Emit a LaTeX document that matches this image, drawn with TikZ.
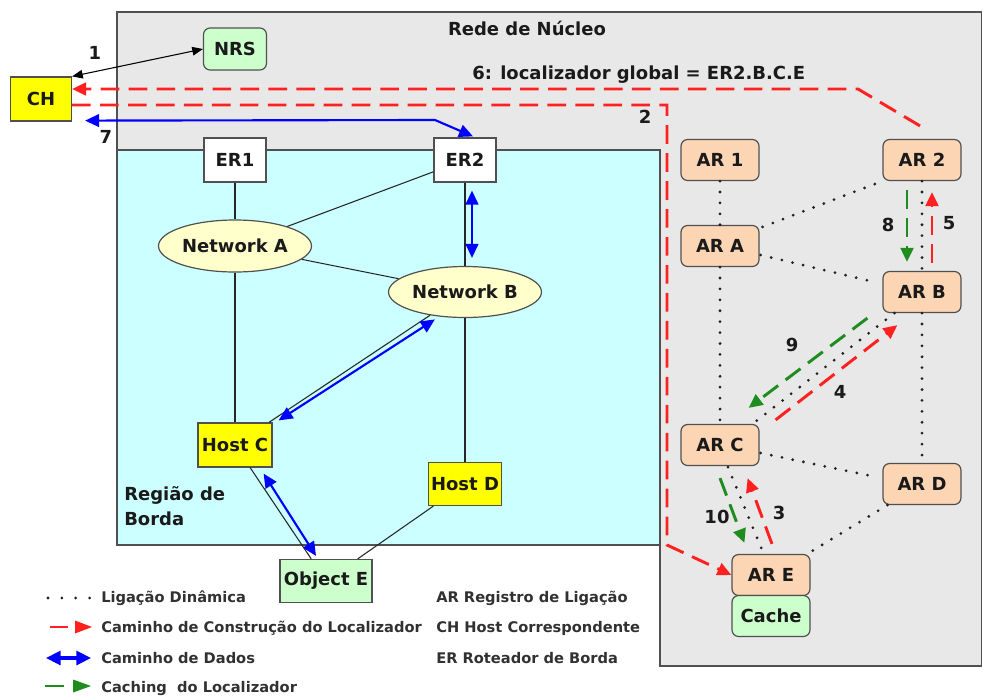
\documentclass[tikz,border=0pt]{standalone}
\usepackage{fontspec}
\setmainfont{DejaVu Sans}
\usetikzlibrary{arrows.meta,shapes.geometric}

\def\px{0.0264cm}
\newcommand\dgfont{\fontsize{13.5}{18.8}\selectfont\bfseries}
\newcommand\legfont{\fontsize{11}{13}\selectfont\bfseries}

\definecolor{coregray}{HTML}{E8E8E8}
\definecolor{edgecol}{HTML}{505050}
\definecolor{borderreg}{HTML}{CCFFFF}
\definecolor{palegreen}{HTML}{CCFFCC}
\definecolor{peach}{HTML}{FCD5B4}
\definecolor{paleyellow}{HTML}{FFFFCC}
\definecolor{yellowc}{HTML}{FFFF00}
\definecolor{redc}{HTML}{FF2020}
\definecolor{bluec}{HTML}{0000FF}
\definecolor{greenc}{HTML}{1E8C1E}
\definecolor{txt}{HTML}{1A1A1A}
\definecolor{dotc}{HTML}{202020}

\tikzset{
  box/.style={draw=edgecol, line width=0.9pt, inner sep=0pt, text=txt},
  rbox/.style={box, rounded corners=5pt},
  arbox/.style={rbox, fill=peach, minimum width=78*\px, minimum height=41*\px},
  net/.style={ellipse, draw=edgecol, line width=0.9pt, fill=paleyellow, inner sep=0pt,
    text=txt, minimum width=153*\px, minimum height=52*\px},
  link/.style={draw=black!85, line width=0.8pt},
  dyn/.style={draw=dotc, line width=2.3pt, line cap=round, dash pattern=on 0pt off 8.2pt},
  legdots/.style={draw=dotc, line width=2.3pt, line cap=round, dash pattern=on 0pt off 10.4pt},
  bigtip/.tip={Triangle[length=10.5pt,width=9.5pt]},
  smalltip/.tip={Triangle[length=8pt,width=6.5pt]},
  legtip/.style={line width=0pt},
  datapath/.style={draw=bluec, line width=1.6pt, bigtip-bigtip},
  buildpath/.style={draw=redc, line width=2.2pt, dash pattern=on 14pt off 7pt, -bigtip},
  cachepath/.style={draw=greenc, line width=2.2pt, dash pattern=on 14pt off 7pt, -bigtip},
  lbl/.style={inner sep=0pt, text=txt},
  legend/.style={font=\legfont, anchor=base west, inner sep=0pt, text=txt!90},
}

\begin{document}
\begin{tikzpicture}[x=\px, y=-\px, every node/.style={font=\dgfont}]
\useasboundingbox (0,0) rectangle (983,697);

% core network and border region
\filldraw[fill=coregray, draw=edgecol, line width=1.1pt]
  (117,12) -- (981.5,12) -- (981.5,666) -- (660,666) -- (660,150) -- (117,150) -- cycle;
\filldraw[fill=borderreg, draw=edgecol, line width=1.1pt] (117,150) rectangle (660,545);

\node[lbl] (core) at (527,28) {Rede de Núcleo};
\node[lbl, anchor=west, align=left] (region) at (124,506) {Região de\\Borda};

% nodes
\node[box, fill=yellowc, minimum width=61*\px, minimum height=44*\px] (CH) at (41,99) {CH};
\node[rbox, fill=palegreen, minimum width=63*\px, minimum height=42*\px] (NRS) at (235,49) {NRS};
\node[box, fill=white, minimum width=62*\px, minimum height=44*\px] (ER1) at (235,160) {ER1};
\node[box, fill=white, minimum width=62*\px, minimum height=44*\px] (ER2) at (465,160) {ER2};
\node[net] (NetA) at (235,246) {Network A};
\node[net, minimum height=51*\px] (NetB) at (465,292) {Network B};
\node[box, fill=yellowc, minimum width=74*\px, minimum height=44*\px] (HostC) at (235,445) {Host C};
\node[box, fill=yellowc, minimum width=73*\px, minimum height=43*\px] (HostD) at (465,484) {Host D};
\node[box, fill=palegreen, minimum width=92*\px, minimum height=43*\px] (ObjE) at (326,581) {Object E};

\node[arbox] (AR1) at (720,160) {AR 1};
\node[arbox] (AR2) at (922,160) {AR 2};
\node[arbox] (ARA) at (720,246) {AR A};
\node[arbox] (ARB) at (922,292) {AR B};
\node[arbox] (ARC) at (720,445) {AR C};
\node[arbox] (ARD) at (922,484) {AR D};
\node[arbox] (ARE) at (771,575) {AR E};
\node[arbox, fill=palegreen] (Cache) at (771,616) {Cache};

% physical links
\draw[link] (ER1) -- (NetA);
\draw[link] (NetA) -- (HostC);
\draw[link] (ER2) -- (NetA);
\draw[link] (NetA) -- (NetB);
\draw[link] (ER2) -- (NetB);
\draw[link] (NetB) -- (HostD);
\draw[link] (HostC) -- (NetB);
\draw[link] (HostC) -- (ObjE);
\draw[link] (HostD) -- (ObjE);

% dynamic bindings between ARs
\draw[dyn] (AR1.south) -- (ARA.north);
\draw[dyn] ([shift={(3,2)}]ARA.north east) -- (AR2.south west);
\draw[dyn] ([shift={(1,9)}]ARA.east) -- ([shift={(-8,-10)}]ARB.west);
\draw[dyn] (AR2.south) -- (ARB.north);
\draw[dyn] (ARA.south) -- (ARC.north);
\draw[dyn] ([shift={(12,0)}]ARB.south west) -- ([shift={(-7,0)}]ARC.north east);
\draw[dyn] (ARB.south) -- (ARD.north);
\draw[dyn] ([shift={(1,8)}]ARC.east) -- ([shift={(-6,-7)}]ARD.west);
\draw[dyn] ([shift={(8,1)}]ARC.south) -- ([shift={(-9,-4)}]ARE.north);
\draw[dyn] ([shift={(5,0)}]ARD.south west) -- ([shift={(0,-2)}]ARE.north east);

% step 1: name resolution
\draw[line width=0.8pt, draw=black, smalltip-smalltip] (CH.north east) -- (NRS.west);
\node[lbl] (n1) at (95,53) {1};

% step 2: locator construction towards AR E
\coordinate (c2a) at (667,105);
\coordinate (c2b) at (667,545);
\draw[buildpath] ([shift={(0,6)}]CH.east) -- (c2a) -- (c2b) -- (ARE.west);
\node[lbl] (n2) at (645,117) {2};

% step 6: global locator returned to CH
\coordinate (c6) at (858,89);
\draw[buildpath] ([shift={(-2,-13)}]AR2.north) -- (c6) -- ([shift={(0,-10)}]CH.east);
\node[lbl, anchor=base west] (n6) at (472,79) {6: localizador global = ER2.B.C.E};

% step 7: data path
\coordinate (c7) at (435,120);
\draw[datapath] ([shift={(13,-1)}]CH.south east) -- (c7) -- ([shift={(8,-1)}]ER2.north);
\node[lbl] (n7) at (106,137) {7};
\draw[datapath] ([shift={(7,8)}]ER2.south) -- ([shift={(7,-8)}]NetB.north);
\draw[datapath] ([shift={(-3,3)}]NetB.222) -- ([shift={(6,-2)}]HostC.north east);
\draw[datapath] ([shift={(-9,6)}]HostC.south east) -- ([shift={(-10,-3)}]ObjE.north);

% steps 3, 4, 5: locator construction through the ARs
\draw[buildpath] ([shift={(1,-10)}]ARE.north) -- ([shift={(-12,12)}]ARC.south east);
\node[lbl] (n3) at (779,513) {3};
\draw[buildpath] ([shift={(16,-4)}]ARC.north east) -- ([shift={(15,12)}]ARB.south west);
\node[lbl] (n4) at (840,392) {4};
\draw[buildpath] ([shift={(10,-8)}]ARB.north) -- ([shift={(10,11)}]AR2.south);
\node[lbl] (n5) at (949,223) {5};

% steps 8, 9, 10: locator caching
\draw[cachepath] ([shift={(-15,9)}]AR2.south) -- ([shift={(-15,-9)}]ARB.north);
\node[lbl] (n8) at (888,225) {8};
\draw[cachepath] ([shift={(-15,5)}]ARB.south west) -- ([shift={(-11,-16)}]ARC.north east);
\node[lbl] (n9) at (792,345) {9};
\draw[cachepath] ([shift={(0,12)}]ARC.south) -- ([shift={(13,-11)}]ARE.north west);
\node[lbl] (n10) at (717,517) {10};

% legend: line samples (a short stroke followed by a detached head)
\coordinate (ld1) at (48,598);  \coordinate (ld2) at (90,598);
\draw[legdots] (ld1) -- (ld2);
\node[legend] (lg1) at (101,602) {Ligação Dinâmica};

\coordinate (lr1) at (50,627);  \coordinate (lr2) at (68,627);
\draw[draw=redc, line width=2.2pt] (lr1) -- (lr2);
\fill[redc] (75,620.5) -- (92,627) -- (75,633.5) -- cycle;
\node[legend] (lg2) at (101,632) {Caminho de Construção do Localizador};

\coordinate (lb1) at (46,658);  \coordinate (lb2) at (91,658);
\draw[draw=bluec, line width=2.4pt, {Triangle[length=11pt,width=10.5pt]}-{Triangle[length=11pt,width=10.5pt]}] (lb1) -- (lb2);
\node[legend] (lg3) at (101,663) {Caminho de Dados};

\coordinate (lgr1) at (45,686); \coordinate (lgr2) at (64,686);
\draw[draw=greenc, line width=2.2pt] (lgr1) -- (lgr2);
\fill[greenc] (73,679.5) -- (91,686) -- (73,692.5) -- cycle;
\node[legend] (lg4) at (101,692) {Caching\ \ do Localizador};

\node[legend] (lg5) at (436,602) {AR Registro de Ligação};
\node[legend] (lg6) at (436,632) {CH Host Correspondente};
\node[legend] (lg7) at (436,663) {ER Roteador de Borda};
\end{tikzpicture}
\end{document}
